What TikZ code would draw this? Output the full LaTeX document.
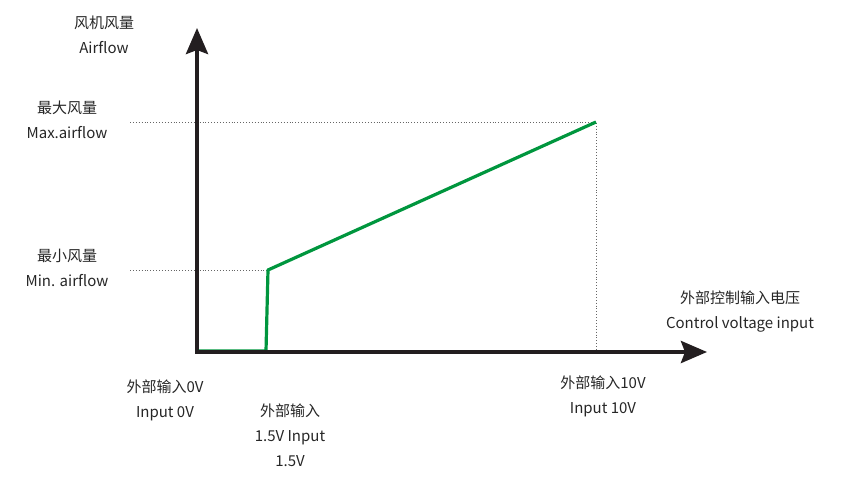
\documentclass[tikz,border=0pt]{standalone}
\usepackage{fontspec}
\setmainfont{Noto Sans CJK SC}
\usetikzlibrary{arrows.meta}
\definecolor{lgreen}{RGB}{0,150,62}
\definecolor{axisc}{RGB}{35,30,32}
\begin{document}
\begin{tikzpicture}[x=1pt,y=-1pt,
  lbl/.style={align=center,font=\fontsize{15}{25}\selectfont,text=black!85,inner sep=0pt},
  axisline/.style={line width=4pt,draw=axisc,-{Stealth[length=26pt,width=22pt,inset=4pt]}},
  guide/.style={dotted,line width=0.9pt,draw=black!60},
  curve/.style={line width=3.2pt,draw=lgreen,line join=round}]
\useasboundingbox (0,0) rectangle (848,478);
\coordinate (O) at (197,352);
\coordinate (Ytop) at (197,28);
\coordinate (Xend) at (707,352);
\coordinate (p0) at (197,351);
\coordinate (p1) at (266,351);
\coordinate (p2) at (268,270);
\coordinate (p3) at (596,122);
\coordinate (gmax) at (130,122);
\coordinate (gmin) at (130,270);
\coordinate (g10) at (596,352);
\draw[guide] (gmax) -- (p3) -- (g10);
\draw[guide] (gmin) -- (p2);
\draw[curve] (p0) -- (p1) -- (p2) -- (p3);
\draw[axisline] (O) -- (Ytop);
\draw[axisline] ([xshift=-2pt]O) -- (Xend);
\node[lbl] (ylab) at (104,35) {风机风量\\Airflow};
\node[lbl] (maxl) at (67,120) {最大风量\\Max.airflow};
\node[lbl] (minl) at (67,268) {最小风量\\Min. airflow};
\node[lbl] (xlab) at (740,312) {外部控制输入电压\\Control voltage input};
\node[lbl] (v0) at (165,400) {外部输入0V\\Input 0V};
\node[lbl] (v15) at (290,435) {外部输入\\1.5V Input\\1.5V};
\node[lbl] (v10) at (603,396) {外部输入10V\\Input 10V};
\end{tikzpicture}
\end{document}
